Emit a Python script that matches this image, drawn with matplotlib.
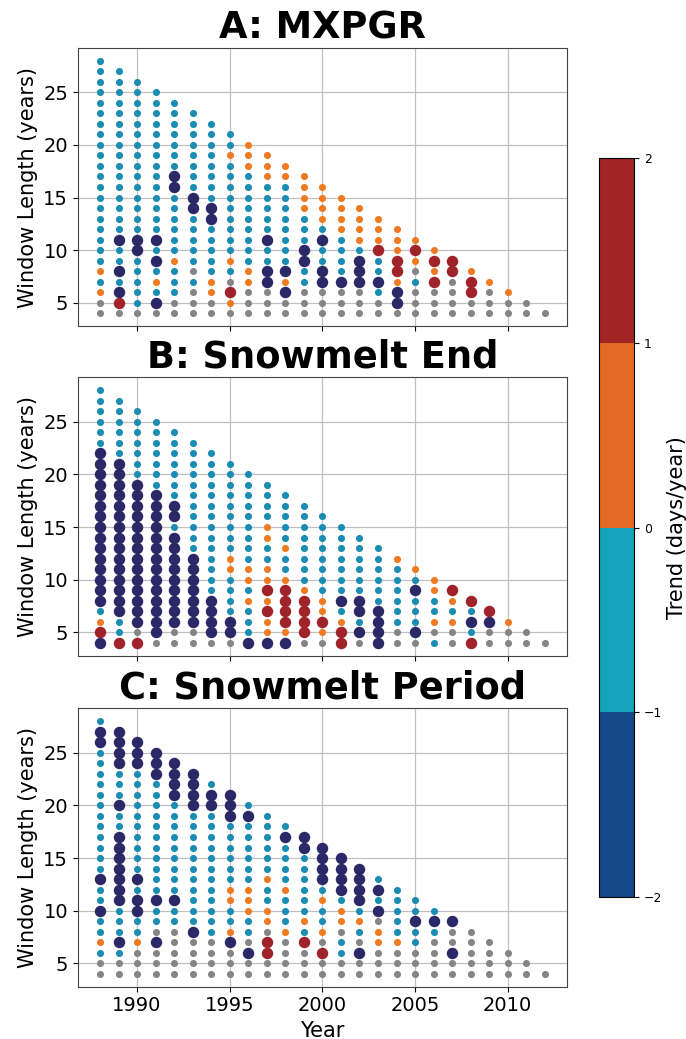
import matplotlib
matplotlib.use("Agg")
import matplotlib.pyplot as plt
from matplotlib.colors import ListedColormap, BoundaryNorm
from matplotlib.cm import ScalarMappable

# start years of the moving windows
years = list(range(1988, 2013))

# one string per start year, window length 4 upwards (spaces only group by 5)
# g = no trend, b = negative, o = positive, N = strong negative, R = strong positive
mxpgr = [
    "ggobo bbbbb bbbbb bbbbb bbbbb",
    "gRNbN bbNbb bbbbb bbbbb bbbb",
    "gbbbb bNNbb bbbbb bbbbb bbb",
    "gNbob NbNbb bbbbb bbbbb bb",
    "ggbbb obbbb bbNNb bbbbb b",
    "gggbg bbbbb NNbbb bbbbb",
    "ggoob bbbbN Nbbbb bbbb",
    "goRgb obbbb bbbbb obb",
    "gggoo bbbbb bbbbo oo",
    "gggNN bbNbb bbboo o",
    "ggNoN bbbbb bbboo",
    "gggbb NNbbb oooo",
    "gggNN bbNbo ooo",
    "gggNb bbboo oo",
    "gggNN Nbooo o",
    "ggbNb bRooo",
    "gNNoR Rooo",
    "gggbg oRo",
    "gggRo Ro",
    "ggggR R",
    "ggRRo",
    "gggo",
    "ggo",
    "gg",
    "g",
]

snowmelt_end = [
    "NRobN NNNNN NNNNN NNNNb bbbbb",
    "RbbNN NNNNN NNNNN NNNbb bbbb",
    "RgNNN NNNNN NNNNN Nbbbb bbb",
    "gNNNN NNNNN NNNNN bbbbb bb",
    "ggNNN NNNNN NbNNb bbbbb b",
    "ggNNN NNNNb bbbbb bbbbb",
    "gNNNN bbbbb bbbbb bbbb",
    "gNNbb bboob bbbbb bbb",
    "Nbbbo boobb bbbbb bb",
    "NooRo Roobb oobbb b",
    "NoRRR Robbo bbbbb",
    "gRRRR obbbb bbbb",
    "goRoo bbbbb bbb",
    "RRobN bbbbb bb",
    "gNbNN bbbbb b",
    "NNNNb bbbbb",
    "ggbbb bbbo",
    "gNbbb Nbo",
    "bgobb oo",
    "ggobo R",
    "RbNbR",
    "ggNR",
    "ggo",
    "gg",
    "g",
]

snowmelt_period = [
    "ggbob bNbbN bbbbb bbbbb bbNNb",
    "ggbNb bbNNN NNNNb bNbbb NNNN",
    "gggob bNNbN bbbbb bbbbb NNN",
    "gggNg bbNbb bbbbb bbbbN NN",
    "ggggg bbNbb bbbbb bbNNN N",
    "ggggN bbbbb bbbbb bNNNN",
    "ggggb bbbbb bbbbb bNNb",
    "gggNo bboob bbbbb NNN",
    "ggNgb booob bbbbb Nb",
    "ggRRg oobbo bbbbb b",
    "ggggo bbbob bbbNb",
    "gggRb obbbb bbNN",
    "ggRgo bbobN NNN",
    "ggbbg oobNN NN",
    "ggNgb obNNN N",
    "gggoo gNbNb",
    "gggob bbbb",
    "gggbb Nbb",
    "ggggb Nb",
    "ggNgg N",
    "ggggg",
    "gggg",
    "ggg",
    "gg",
    "g",
]

titles = ["A: MXPGR", "B: Snowmelt End", "C: Snowmelt Period"]
panels = [mxpgr, snowmelt_end, snowmelt_period]

colorbar_colors = ["#154a8a", "#14a3ba", "#e36a23", "#a32424"]
colorbar_bounds = [-2, -1, 0, 1, 2]

dot_style = {
    "g": ("#858585", 26),
    "b": ("#1b8db2", 26),
    "o": ("#ee7a22", 26),
    "N": ("#2b2868", 68),
    "R": ("#a0232a", 68),
}

fig = plt.figure(figsize=(6.86, 10.39), dpi=100)

bottoms = [0.6862, 0.3691, 0.0505]
axes = []
for i, (title, cols) in enumerate(zip(titles, panels)):
    ax = fig.add_axes([0.1133, bottoms[i], 0.7133, 0.2676])
    axes.append(ax)
    pts = {k: ([], []) for k in dot_style}
    for yr, col in zip(years, cols):
        col = col.replace(" ", "")
        for j, c in enumerate(col):
            pts[c][0].append(yr)
            pts[c][1].append(4 + j)
    for k, (xs, ys) in pts.items():
        color, size = dot_style[k]
        ax.scatter(xs, ys, s=size, c=color, linewidths=0, zorder=3)
    ax.set_axisbelow(True)
    ax.grid(True, color="#c0c0c0", linewidth=0.9)
    ax.set_yticks([5, 10, 15, 20, 25])
    ax.set_xticks([1990, 1995, 2000, 2005, 2010])
    ax.set_xlim(1986.8, 2013.2)
    ax.set_ylim(2.8, 29.2)
    ax.tick_params(labelsize=14)
    ax.set_ylabel("Window Length (years)", fontsize=15)
    ax.set_title(title, fontsize=26.5, fontweight="bold", pad=7)
    for sp in ax.spines.values():
        sp.set_color("#444444")
    if i < 2:
        ax.tick_params(labelbottom=False)

axes[-1].set_xlabel("Year", fontsize=15)

cax = fig.add_axes([0.873, 0.1367, 0.0517, 0.711])
cmap = ListedColormap(colorbar_colors)
norm = BoundaryNorm(colorbar_bounds, cmap.N)
cb = fig.colorbar(ScalarMappable(norm=norm, cmap=cmap), cax=cax, ticks=colorbar_bounds)
cb.ax.tick_params(labelsize=9)
cb.set_label("Trend (days/year)", fontsize=15, labelpad=3)

fig.savefig("out.png", dpi=100)
